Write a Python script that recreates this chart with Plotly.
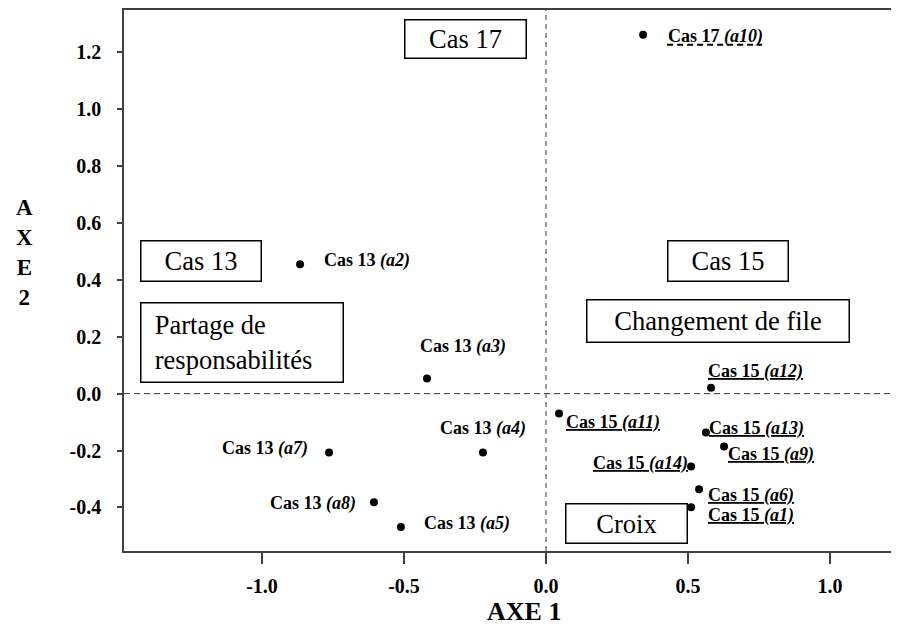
import plotly.graph_objects as go

# ---- data ----
point_ids = ["a10", "a2", "a3", "a4", "a7", "a8", "a5",
             "a12", "a11", "a13", "a9", "a14", "a6", "a1"]
point_case = ["Cas 17", "Cas 13", "Cas 13", "Cas 13", "Cas 13", "Cas 13", "Cas 13",
              "Cas 15", "Cas 15", "Cas 15", "Cas 15", "Cas 15", "Cas 15", "Cas 15"]
axe1 = [0.342, -0.866, -0.419, -0.222, -0.764, -0.606, -0.511,
        0.581, 0.046, 0.563, 0.627, 0.511, 0.539, 0.511]
axe2 = [1.261, 0.455, 0.053, -0.207, -0.207, -0.382, -0.469,
        0.021, -0.070, -0.137, -0.186, -0.256, -0.336, -0.399]

x_tickvals = [-1.0, -0.5, 0.0, 0.5, 1.0]
x_ticktext = ["-1.0", "-0.5", "0.0", "0.5", "1.0"]
y_tickvals = [-0.4, -0.2, 0.0, 0.2, 0.4, 0.6, 0.8, 1.0, 1.2]
y_ticktext = ["-0.4", "-0.2", "0.0", "0.2", "0.4", "0.6", "0.8", "1.0", "1.2"]

box_texts = ["Cas 17", "Cas 13", "&nbsp;&nbsp;Partage de<br>&nbsp;&nbsp;responsabilités",
             "Cas 15", "Changement de file", "Croix"]
box_x = [-0.285, -1.215, -1.072, 0.641, 0.606, 0.283]
box_y = [1.247, 0.466, 0.180, 0.466, 0.256, -0.457]

# ---- label placement styles (anchor, xshift px, yshift px) ----
label_style = {
    "a10": ("left", 24, -2), "a2": ("left", 23, 4), "a3": ("left", -8, 32),
    "a4": ("center", 0, 24), "a7": ("right", -20, 4), "a8": ("right", -17, -1),
    "a5": ("left", 22, 4), "a12": ("left", -4, 16), "a11": ("left", 6, -9),
    "a13": ("left", 2, 4), "a9": ("left", 3, -8), "a14": ("right", -2, 3),
    "a6": ("left", 8, -6), "a1": ("left", 16, -8),
}
box_size = {  # total width, height in px
    "Cas 17": (123, 40), "Cas 13": (122, 42), "Partage": (204, 81),
    "Cas 15": (122, 42), "Changement de file": (264, 44), "Croix": (123, 41),
}

FONT = "Liberation Serif"
AXC = "#404040"

fig = go.Figure()
fig.add_trace(go.Scatter(
    x=axe1, y=axe2, mode="markers",
    marker=dict(color="black", size=8),
    hoverinfo="skip", showlegend=False,
))

annotations = []
shapes = []
for pid, case, x, y in zip(point_ids, point_case, axe1, axe2):
    label = f"{case} <i>({pid})</i>"
    anchor, dx, dy = label_style[pid]
    if case == "Cas 15":
        label = f"<span style='text-decoration:underline solid 2px'>{label}</span>"
    elif case == "Cas 17":
        # dashed underline drawn as a pixel-sized shape anchored on the point
        shapes.append(dict(
            type="line", xref="x", yref="y", xsizemode="pixel", ysizemode="pixel",
            xanchor=x, yanchor=y, x0=dx, x1=dx + 95, y0=dy - 8, y1=dy - 8,
            line=dict(color="black", width=2, dash="6px,4px"),
        ))
    annotations.append(dict(
        x=x, y=y, xref="x", yref="y", text=f"<b>{label}</b>", showarrow=False,
        xanchor=anchor, yanchor="middle", xshift=dx, yshift=dy,
        font=dict(family=FONT, size=18, color="black"), borderpad=0,
    ))

BW = 1.5
for t, x, y in zip(box_texts, box_x, box_y):
    key = "Partage" if "Partage" in t else t
    w, h = box_size[key]
    annotations.append(dict(
        x=x, y=y, xref="x", yref="y", text=t, showarrow=False,
        xanchor="center", yanchor="middle",
        width=w - 2 * BW, height=h - 2 * BW, borderpad=0,
        align="left" if key == "Partage" else "center",
        bordercolor="black", borderwidth=BW, bgcolor="white",
        font=dict(family=FONT, size=26.5, color="black"),
    ))

annotations.append(dict(
    x=0.516, y=-0.112, xref="paper", yref="paper", text="<b>AXE 1</b>",
    showarrow=False, xanchor="center", yanchor="middle",
    font=dict(family=FONT, size=26, color="black"),
))
annotations.append(dict(
    x=-0.129, y=0.552, xref="paper", yref="paper", text="<b>A<br>X<br>E<br>2</b>",
    showarrow=False, xanchor="center", yanchor="middle",
    font=dict(family=FONT, size=23, color="black"),
))

fig.add_vline(x=0, line=dict(color="#333333", width=1, dash="5px,4px"), layer="below")
fig.add_hline(y=0, line=dict(color="#333333", width=1, dash="6px,4px"), layer="below")
for s in shapes:
    fig.add_shape(**s)

# page body has an 8px margin; the figure is sized so it ends at the window edge
fig.update_layout(
    width=891, height=618,
    margin=dict(l=116, r=0, t=0, b=75),
    paper_bgcolor="white", plot_bgcolor="white",
    annotations=annotations,
    xaxis=dict(
        range=[-1.486, 1.243], showgrid=False, zeroline=False,
        showline=True, linecolor=AXC, linewidth=1.5, mirror=True,
        ticks="outside", ticklen=11, tickwidth=1.5, tickcolor=AXC,
        tickvals=x_tickvals, ticktext=x_ticktext, ticklabelstandoff=5,
        tickfont=dict(family=FONT, size=20, color="black", weight="bold"),
    ),
    yaxis=dict(
        range=[-0.553, 1.348], showgrid=False, zeroline=False,
        showline=True, linecolor=AXC, linewidth=1.5,
        ticks="outside", ticklen=5, tickwidth=1.5, tickcolor=AXC,
        tickvals=y_tickvals, ticktext=y_ticktext, ticklabelstandoff=12,
        tickfont=dict(family=FONT, size=20, color="black", weight="bold"),
    ),
)

fig.write_html("out.html")
